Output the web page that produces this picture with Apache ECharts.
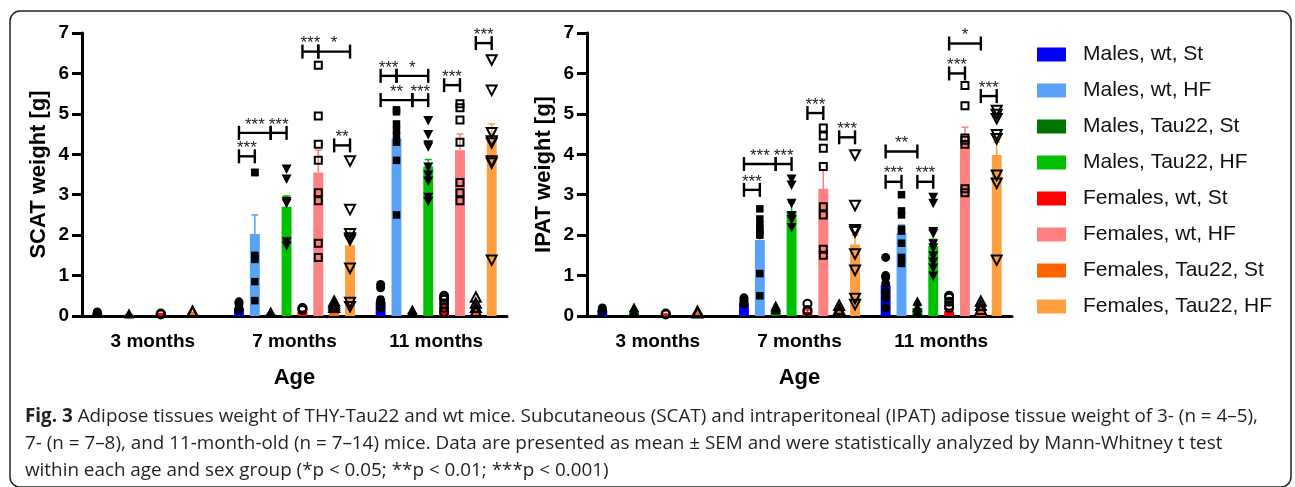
<!DOCTYPE html>
<html>
<head>
<meta charset="utf-8">
<script src="https://cdn.jsdelivr.net/npm/echarts@6/dist/echarts.min.js"></script>
<style>
  html, body { margin: 0; padding: 0; background: #fff; }
  .chart { width: 1295px; height: 487px; }
</style>
</head>
<body>
<div class="chart"></div>
<script>
// age groups (x categories)
const ages = ['3 months', '7 months', '11 months'];
// the 8 groups, same order as the bars inside each age
const groups = ['Males, wt, St', 'Males, wt, HF', 'Males, Tau22, St', 'Males, Tau22, HF',
  'Females, wt, St', 'Females, wt, HF', 'Females, Tau22, St', 'Females, Tau22, HF'];
const yTicks = [0, 1, 2, 3, 4, 5, 6, 7];

// SCAT: mean per group [3 mo, 7 mo, 11 mo]
const scatMean = [
  [0.08, 0.2, 0.35], [null, 2.03, 4.38], [0.03, 0.05, 0.08], [null, 2.7, 3.7],
  [0.05, 0.1, 0.2], [null, 3.55, 4.1], [0.07, 0.15, 0.15], [null, 1.75, 4.35]
];
const scatSem = [
  [0.02, 0.05, 0.13], [null, 0.47, 0.3], [0.01, 0.02, 0.02], [null, 0.27, 0.17],
  [0.01, 0.02, 0.05], [null, 0.55, 0.4], [0.02, 0.05, 0.05], [null, 0.4, 0.4]
];
// single animals, per group, per age
const scatPoints = [
  [[0.1, 0.08, 0.06], [0.35, 0.3, 0.2, 0.15], [0.78, 0.7, 0.4, 0.35, 0.3, 0.2]],
  [[], [3.55, 3.55, 1.5, 1.45, 1.4, 0.85, 0.38], [5.1, 5.05, 4.75, 4.6, 4.45, 4.3, 3.85, 2.5]],
  [[0.05, 0.04], [0.1, 0.08], [0.15, 0.1]],
  [[], [3.65, 3.4, 2.85, 2.8, 1.85, 1.75], [4.85, 4.5, 4.25, 4.2, 3.7, 3.5, 3.35, 2.95, 2.85]],
  [[0.06, 0.05, 0.04], [0.2, 0.18, 0.15], [0.5, 0.45, 0.4, 0.3, 0.2, 0.1]],
  [[], [6.2, 4.95, 4.25, 3.85, 3.05, 2.85, 1.8, 1.45], [5.25, 5.15, 4.85, 4.3, 3.3, 3.05, 2.85]],
  [[0.1, 0.08], [0.35, 0.3, 0.25, 0.2], [0.45, 0.3, 0.2, 0.1]],
  [[], [3.85, 2.65, 2.05, 1.95, 1.9, 1.2, 0.35, 0.25], [6.35, 5.6, 4.55, 4.35, 4.3, 3.85, 3.8, 1.4]]
];
// significance brackets: [age, from group, to group, level, stars]
const scatSig = [
  [1, 0, 1, 3.95, '***'], [1, 0, 2, 4.53, '***'], [1, 2, 3, 4.53, '***'],
  [1, 4, 5, 6.54, '***'], [1, 5, 7, 6.54, '*'], [1, 6, 7, 4.22, '**'],
  [2, 0, 1, 5.94, '***'], [2, 1, 3, 5.94, '*'], [2, 0, 2, 5.34, '**'], [2, 2, 3, 5.34, '***'],
  [2, 4, 5, 5.71, '***'], [2, 6, 7, 6.75, '***']
];

// IPAT
const ipatMean = [
  [0.15, 0.32, 0.76], [null, 1.88, 2.05], [0.12, 0.15, 0.2], [null, 2.57, 1.73],
  [0.04, 0.1, 0.12], [null, 3.15, 4.3], [0.08, 0.1, 0.15], [null, 1.77, 3.98]
];
const ipatSem = [
  [0.02, 0.04, 0.18], [null, 0.27, 0.2], [0.02, 0.03, 0.05], [null, 0.23, 0.17],
  [0.01, 0.05, 0.05], [null, 0.45, 0.37], [0.02, 0.03, 0.05], [null, 0.23, 0.32]
];
const ipatPoints = [
  [[0.2, 0.15, 0.12], [0.45, 0.4, 0.35, 0.3], [1.45, 1.0, 0.95, 0.8, 0.6, 0.45, 0.2]],
  [[], [2.65, 2.4, 2.25, 2.15, 2.05, 2.0, 1.05, 0.5], [3.0, 2.6, 2.5, 2.15, 2.1, 1.8, 1.45, 1.3]],
  [[0.2, 0.1], [0.25, 0.2, 0.15], [0.35, 0.2, 0.1]],
  [[], [3.4, 3.25, 2.8, 2.5, 2.4, 2.2], [2.95, 2.8, 2.1, 2.05, 1.8, 1.7, 1.5, 1.35, 1.2, 1.0]],
  [[0.06, 0.04], [0.3, 0.15, 0.12], [0.5, 0.45, 0.35, 0.25, 0.2]],
  [[], [4.65, 4.45, 4.15, 3.7, 2.7, 2.5, 1.65, 1.5], [5.7, 5.2, 4.4, 4.35, 4.25, 3.15, 3.05]],
  [[0.1, 0.06], [0.25, 0.15, 0.1], [0.35, 0.25, 0.15]],
  [[], [4.0, 2.75, 2.15, 2.1, 1.55, 1.15, 0.45, 0.3], [5.1, 5.0, 4.9, 4.5, 4.4, 3.5, 3.3, 1.4]]
];
const ipatSig = [
  [1, 0, 1, 3.12, '***'], [1, 0, 2, 3.76, '***'], [1, 2, 3, 3.76, '***'],
  [1, 4, 5, 5.02, '***'], [1, 6, 7, 4.42, '***'],
  [2, 0, 2, 4.07, '**'], [2, 0, 1, 3.32, '***'], [2, 2, 3, 3.32, '***'],
  [2, 4, 6, 6.74, '*'], [2, 4, 5, 6.0, '***'], [2, 6, 7, 5.44, '***']
];

const captionLines = [
  'Adipose tissues weight of THY-Tau22 and wt mice. Subcutaneous (SCAT) and intraperitoneal (IPAT) adipose tissue weight of 3- (n = 4–5),',
  '7- (n = 7–8), and 11-month-old (n = 7–14) mice. Data are presented as mean ± SEM and were statistically analyzed by Mann-Whitney t test',
  'within each age and sex group (*p < 0.05; **p < 0.01; ***p < 0.001)'
];

(function () {
  let myChart = echarts.init(document.querySelector('.chart'))
  const colors = ['#0000f5', '#5aa2f8', '#007400', '#00c000', '#ff0000', '#ff8080', '#ff6400', '#ffa040']
  const font = "'Liberation Sans', Arial, sans-serif"
  const capFont = "'Open Sans', sans-serif"
  const capSize = 18.85
  // bar width as part of the category band, gap between bars
  const barPart = 0.07
  const gapPart = 0.6

  // x offset of a group's bar from the category centre
  function offset(api, g) {
    let bw = api.size([1, 0])[0]
    return (g - 3.5) * bw * barPart * (1 + gapPart)
  }

  function errorData(mean, sem) {
    let out = []
    mean.forEach((row, g) => row.forEach((m, a) => {
      if (m != null) out.push([a, m, sem[g][a], g])
    }))
    return out
  }
  function pointData(points) {
    let out = []
    points.forEach((row, g) => row.forEach((vals, a) => {
      vals.forEach(v => out.push([a, v, g]))
    }))
    return out
  }
  function sigData(sig) {
    return sig.map(s => [s[0], s[3], s[1], s[2]])
  }

  function renderError(params, api) {
    let g = api.value(3)
    let p0 = api.coord([api.value(0), api.value(1)])
    let p1 = api.coord([api.value(0), api.value(1) + api.value(2)])
    let x = p0[0] + offset(api, g)
    let st = { stroke: colors[g], lineWidth: 1.5 }
    return {
      type: 'group',
      children: [
        { type: 'line', shape: { x1: x, y1: p0[1], x2: x, y2: p1[1] }, style: st },
        { type: 'line', shape: { x1: x - 3.5, y1: p1[1], x2: x + 3.5, y2: p1[1] }, style: st }
      ]
    }
  }

  // marker shape per group: circle, square, triangle up, triangle down (open for females)
  function renderPoint(params, api) {
    let g = api.value(2)
    let p = api.coord([api.value(0), api.value(1)])
    let x = p[0] + offset(api, g)
    let y = p[1]
    let open = g >= 4
    let st = open ? { fill: 'none', stroke: '#000', lineWidth: 2 } : { fill: '#000' }
    let kind = g % 4
    if (kind === 0) {
      return { type: 'circle', shape: { cx: x, cy: y, r: open ? 4 : 4.5 }, style: st }
    }
    if (kind === 1) {
      let s = open ? 7 : 7.5
      return { type: 'rect', shape: { x: x - s / 2, y: y - s / 2, width: s, height: s }, style: st }
    }
    if (kind === 2) {
      return { type: 'polygon', shape: { points: [[x, y - 5.5], [x + 5, y + 4], [x - 5, y + 4]] }, style: st }
    }
    return { type: 'polygon', shape: { points: [[x - 5, y - 4], [x + 5, y - 4], [x, y + 5.5]] }, style: st }
  }

  function makeRenderSig(sig) {
    return function (params, api) {
      let s = sig[params.dataIndex]
      let c = api.coord([api.value(0), api.value(1)])
      let x1 = c[0] + offset(api, api.value(2))
      let x2 = c[0] + offset(api, api.value(3))
      let y = c[1]
      let st = { stroke: '#000', lineWidth: 2.4 }
      return {
        type: 'group',
        children: [
          { type: 'line', shape: { x1: x1, y1: y, x2: x2, y2: y }, style: st },
          { type: 'line', shape: { x1: x1, y1: y - 7, x2: x1, y2: y + 7 }, style: st },
          { type: 'line', shape: { x1: x2, y1: y - 7, x2: x2, y2: y + 7 }, style: st },
          {
            type: 'text', x: (x1 + x2) / 2, y: y - 8,
            style: {
              text: s[4], fontSize: 17, fontFamily: font,
              fill: '#222', align: 'center', verticalAlign: 'middle'
            }
          }
        ]
      }
    }
  }

  // axes shared style
  function xAxis(grid) {
    return {
      type: 'category', gridIndex: grid, data: ages,
      name: 'Age', nameLocation: 'middle', nameGap: 51,
      nameTextStyle: { fontSize: 22, fontWeight: 'bold', color: '#000', fontFamily: font },
      axisLine: { lineStyle: { color: '#000', width: 3 } },
      axisTick: { alignWithLabel: true, length: 9, lineStyle: { color: '#000', width: 3 } },
      axisLabel: { margin: 16, fontSize: 19, fontWeight: 'bold', color: '#000', fontFamily: font },
      splitLine: { show: false }
    }
  }
  function yAxis(grid, name) {
    return {
      type: 'value', gridIndex: grid, min: 0, max: yTicks[yTicks.length - 1], interval: 1,
      name: name, nameLocation: 'middle', nameGap: 32,
      nameTextStyle: { fontSize: 22, fontWeight: 'bold', color: '#000', fontFamily: font },
      axisLine: { show: true, lineStyle: { color: '#000', width: 3 } },
      axisTick: { show: true, length: 10, lineStyle: { color: '#000', width: 3 } },
      axisLabel: { margin: 13, fontSize: 19, fontWeight: 'bold', color: '#000', fontFamily: font },
      splitLine: { show: false }
    }
  }

  // 16 bar series: 8 groups in each chart
  let series = []
  ;[scatMean, ipatMean].forEach((mean, k) => {
    groups.forEach((name, g) => {
      series.push({
        name: name, type: 'bar', xAxisIndex: k, yAxisIndex: k,
        barWidth: (barPart * 100) + '%', barGap: (gapPart * 100) + '%',
        itemStyle: { color: colors[g] },
        data: mean[g], z: 2, silent: true
      })
    })
  })
  // error bars, single animals and brackets on top
  ;[[scatMean, scatSem, scatPoints, scatSig], [ipatMean, ipatSem, ipatPoints, ipatSig]].forEach((d, k) => {
    series.push({
      type: 'custom', xAxisIndex: k, yAxisIndex: k, z: 3, silent: true,
      renderItem: renderError, encode: { x: 0, y: 1 }, data: errorData(d[0], d[1])
    })
    series.push({
      type: 'custom', xAxisIndex: k, yAxisIndex: k, z: 4, silent: true,
      renderItem: renderPoint, encode: { x: 0, y: 1 }, data: pointData(d[2])
    })
    series.push({
      type: 'custom', xAxisIndex: k, yAxisIndex: k, z: 5, silent: true,
      renderItem: makeRenderSig(d[3]), encode: { x: 0, y: 1 }, data: sigData(d[3])
    })
  })

  let option = {
    animation: false,
    backgroundColor: '#fff',
    grid: [
      { left: 82, top: 33, width: 425, height: 283, outerBoundsMode: 'none' },
      { left: 587, top: 33, width: 425, height: 283, outerBoundsMode: 'none' }
    ],
    legend: {
      orient: 'vertical', left: 1037, top: 44, padding: 0,
      itemWidth: 29, itemHeight: 14, itemGap: 15, icon: 'rect',
      data: groups,
      textStyle: { fontSize: 21, lineHeight: 21, color: '#111', fontFamily: font, padding: [0, 0, 0, 12] }
    },
    xAxis: [xAxis(0), xAxis(1)],
    yAxis: [yAxis(0, 'SCAT weight [g]'), yAxis(1, 'IPAT weight [g]')],
    series: series,
    graphic: [
      {
        type: 'rect', shape: { x: 10, y: 11, width: 1281, height: 476, r: 10 },
        style: { fill: 'none', stroke: '#222', lineWidth: 1.5 }, silent: true
      },
      {
        type: 'text', left: 25, top: 407,
        style: {
          text: '{b|Fig. 3} ' + captionLines[0],
          rich: { b: { fontWeight: 'bold', fontSize: capSize, fontFamily: capFont, fill: '#231f20' } },
          fontSize: capSize, fontFamily: capFont, fill: '#231f20'
        }
      },
      {
        type: 'text', left: 25, top: 434,
        style: { text: captionLines[1], fontSize: capSize, fontFamily: capFont, fill: '#231f20' }
      },
      {
        type: 'text', left: 25, top: 461,
        style: { text: captionLines[2], fontSize: capSize, fontFamily: capFont, fill: '#231f20' }
      }
    ]
  }

  myChart.setOption(option)

  window.addEventListener('resize', function () {
    myChart.resize()
  })
})();
</script>
</body>
</html>
